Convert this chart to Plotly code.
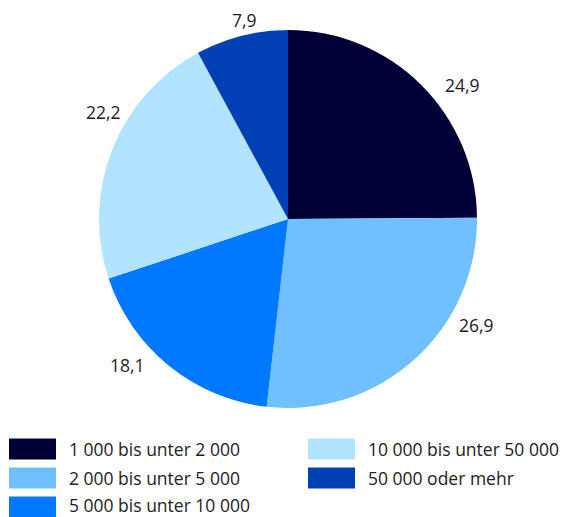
import math
import plotly.graph_objects as go

categories = ["1 000 bis unter 2 000", "2 000 bis unter 5 000", "5 000 bis unter 10 000",
              "10 000 bis unter 50 000", "50 000 oder mehr"]
values = [24.9, 26.9, 18.1, 22.2, 7.9]
colors = ["#000036", "#70bfff", "#0078ff", "#b3e4ff", "#0040b5"]

# label placement (layout only): angular shift from slice middle (deg) and distance (px)
label_shift = [7.6, -18.7, 8.8, 8.4, 2.0]
label_dist = [220, 216, 217, 213, 204]

W, H = 569, 517
FONT = "Open Sans"
FS = 17.5
CX, CY, R = 288, 219, 189

fig = go.Figure()
fig.add_trace(go.Pie(
    labels=categories, values=values, sort=False, direction="clockwise", rotation=0,
    marker=dict(colors=colors, line=dict(width=0)),
    textinfo="none",
    domain=dict(x=[(CX - R) / W, (CX + R) / W], y=[1 - (CY + R) / H, 1 - (CY - R) / H]),
    showlegend=False, hoverinfo="label+value",
))

annotations, shapes = [], []
total = sum(values)
cum = 0.0
for v, sh, d in zip(values, label_shift, label_dist):
    mid = (cum + v / 2) / total * 360.0 + sh
    cum += v
    a = math.radians(mid)
    px = CX + d * math.sin(a)
    py = CY - d * math.cos(a)
    annotations.append(dict(xref="paper", yref="paper", x=px / W, y=1 - py / H,
                            text=f"{v:.1f}".replace(".", ","), showarrow=False,
                            xanchor="center", yanchor="middle",
                            font=dict(family=FONT, size=FS, color="#222222")))

# manual two-column legend (column-major order as in the original)
col_x = [9, 308]
row_y = [449, 478, 507]
for i, (cat, col) in enumerate(zip(categories, colors)):
    c, r = divmod(i, 3)
    x0 = col_x[c]
    yc = row_y[r]
    shapes.append(dict(type="rect", xref="paper", yref="paper",
                       x0=x0 / W, x1=(x0 + 47) / W,
                       y0=1 - (yc + 10.5) / H, y1=1 - (yc - 10.5) / H,
                       fillcolor=col, line=dict(width=0)))
    ty = min(yc, H - 12.5)
    annotations.append(dict(xref="paper", yref="paper", x=(x0 + 58) / W, y=1 - ty / H,
                            text=cat, showarrow=False, xanchor="left", yanchor="middle",
                            font=dict(family=FONT, size=FS, color="#222222")))

fig.update_layout(
    width=W, height=H, margin=dict(l=0, r=0, t=0, b=0),
    paper_bgcolor="white", plot_bgcolor="white",
    shapes=shapes, annotations=annotations,
    font=dict(family=FONT, size=FS, color="#222222"),
)
fig.write_html("out.html", config={"displayModeBar": False},
               post_script="document.body.style.margin='0';document.body.style.overflow='hidden';")
